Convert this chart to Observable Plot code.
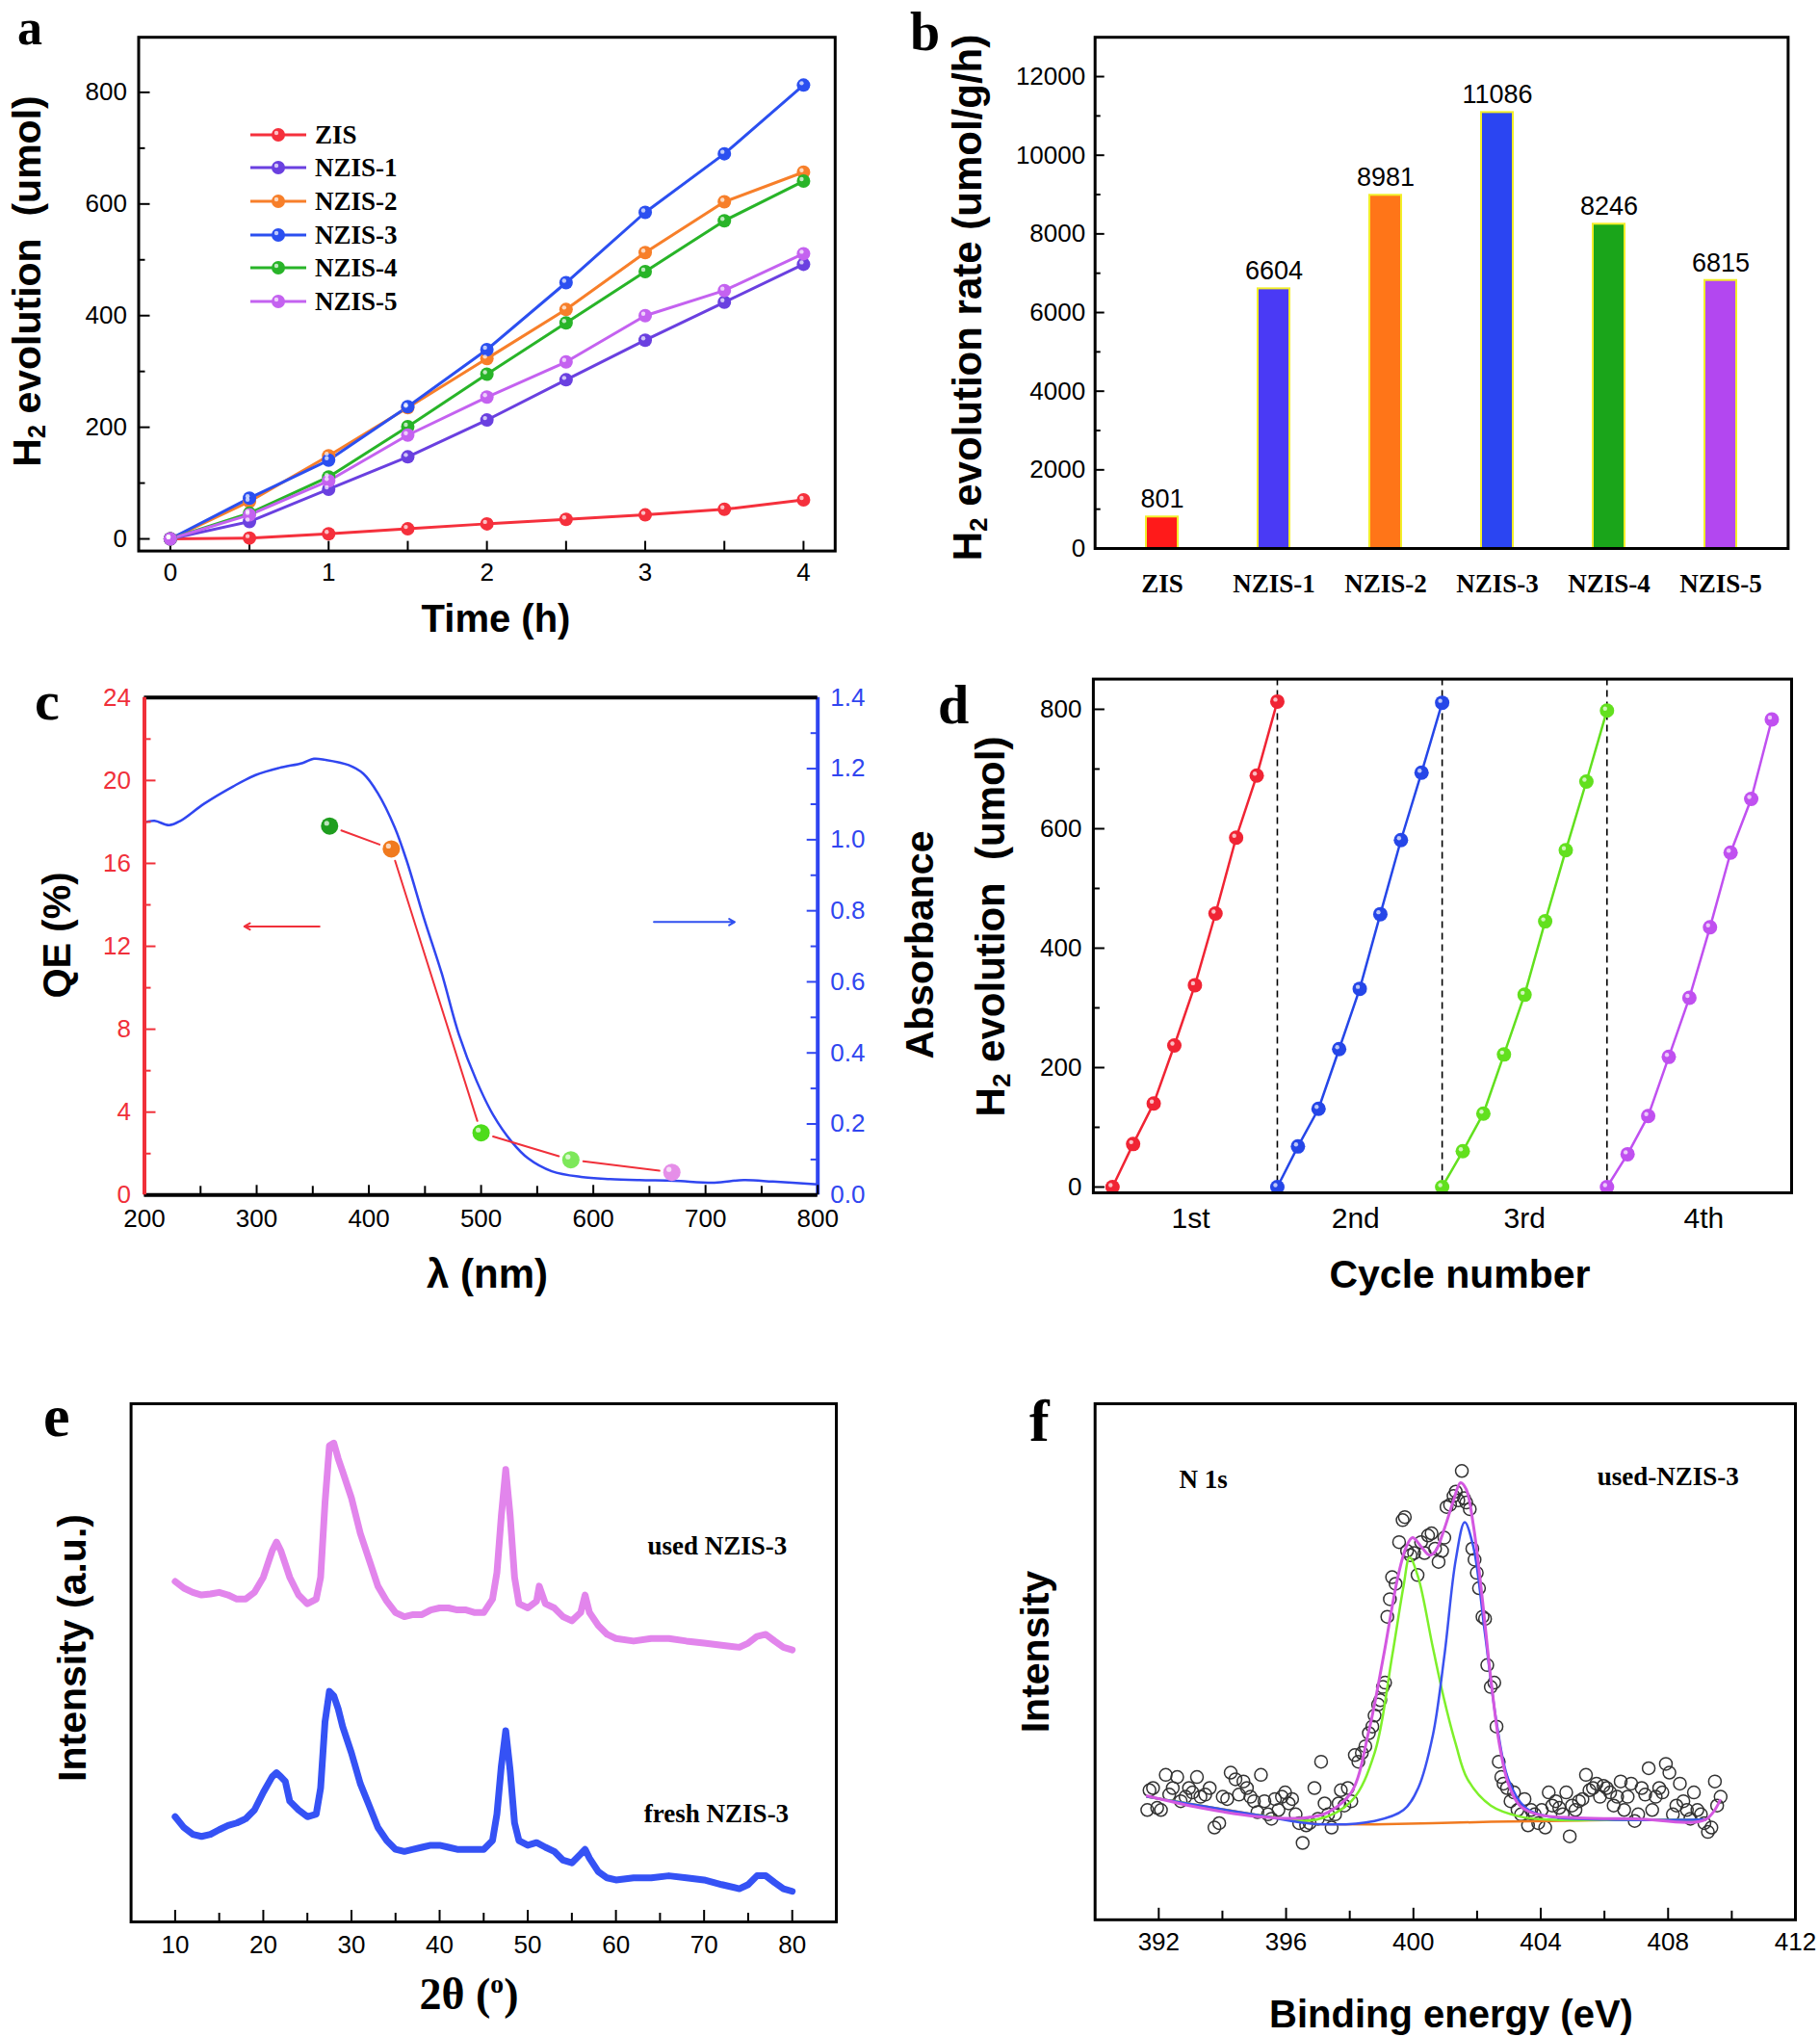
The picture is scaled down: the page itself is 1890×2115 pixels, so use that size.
<!DOCTYPE html>
<html><head><meta charset="utf-8">
<script src="https://cdn.jsdelivr.net/npm/d3@7"></script>
<script src="https://cdn.jsdelivr.net/npm/@observablehq/plot@0.6"></script>
<style>
html,body{margin:0;padding:0;background:#fff;}
#page{position:relative;width:1890px;height:2115px;background:#fff;overflow:hidden;}
.t{position:absolute;white-space:nowrap;font-family:"Liberation Sans",Arial,sans-serif;font-weight:bold;color:#000;line-height:1;}
.lt{position:absolute;white-space:nowrap;font-family:"Liberation Serif","Times New Roman",serif;font-weight:bold;line-height:1;color:#000;}
.pl{position:absolute;white-space:nowrap;font-family:"Liberation Serif","Times New Roman",serif;font-weight:bold;line-height:0.75;color:#000;}
.sub{font-size:0.62em;vertical-align:-0.22em;line-height:0;}
</style></head><body><div id="page"></div>
<script>
// ---------------- DATA ----------------
// (a) H2 evolution vs time
const timeH = [0, 0.5, 1, 1.5, 2, 2.5, 3, 3.5, 4];
const seriesA = ["ZIS", "NZIS-1", "NZIS-2", "NZIS-3", "NZIS-4", "NZIS-5"];
const colorsA = ["#f5303c", "#6a40e0", "#f77f2a", "#2b4ff0", "#28b428", "#c462f0"];
const h2ZIS = [0, 1.5, 9, 18, 27, 35, 43, 53, 70];
const h2N1 = [0, 31, 89, 147, 213, 285, 356, 424, 492];
const h2N2 = [0, 67, 149, 235, 323, 411, 513, 604, 657];
const h2N3 = [0, 73, 141, 237, 339, 459, 585, 690, 813];
const h2N4 = [0, 46, 111, 201, 295, 387, 479, 570, 641];
const h2N5 = [0, 43, 104, 186, 254, 317, 400, 445, 511];
const aYTicks = [0, 200, 400, 600, 800];
const aYMinor = [100, 300, 500, 700];
const aXTicks = [0, 1, 2, 3, 4];

// (b) H2 evolution rate
const catsB = ["ZIS", "NZIS-1", "NZIS-2", "NZIS-3", "NZIS-4", "NZIS-5"];
const rateB = [801, 6604, 8981, 11086, 8246, 6815];
const colorsB = ["#ff1a1a", "#4a3af5", "#ff7518", "#2b45f2", "#1aa51a", "#b347f0"];
const bYTicks = [0, 2000, 4000, 6000, 8000, 10000, 12000];
const bYMinor = [1000, 3000, 5000, 7000, 9000, 11000];

// (c) QE and absorbance
const lambdaAbs = [200, 209, 222, 232, 253, 279, 299, 320, 341, 351, 361, 382, 395, 408, 423, 434, 449, 465, 480, 496, 511, 527, 542, 563, 589, 615, 641, 672, 708, 734, 760, 800];
const absVals = [1.049, 1.053, 1.041, 1.053, 1.101, 1.150, 1.182, 1.202, 1.216, 1.228, 1.225, 1.210, 1.186, 1.131, 1.035, 0.938, 0.780, 0.623, 0.454, 0.321, 0.224, 0.151, 0.103, 0.067, 0.051, 0.045, 0.042, 0.040, 0.035, 0.042, 0.038, 0.030];
const lambdaQE = [365, 420, 500, 580, 670];
const qeVals = [17.8, 16.7, 3.0, 1.7, 1.1];
const qeColors = ["#1f9e1f", "#f07a1e", "#4ddc1a", "#7de85a", "#e58ee8"];
const cQETicks = [0, 4, 8, 12, 16, 20, 24];
const cQEMinor = [2, 6, 10, 14, 18, 22];
const cAbsTicks = [0, 0.2, 0.4, 0.6, 0.8, 1.0, 1.2, 1.4];
const cAbsMinor = [0.1, 0.3, 0.5, 0.7, 0.9, 1.1, 1.3];
const cXTicks = [200, 300, 400, 500, 600, 700, 800];
const cXMinor = [250, 350, 450, 550, 650, 750];
const arrowX1 = [356, 654];
const arrowX2 = [289, 726];
const arrowY = [12.96, 13.17];
const arrowColors = ["#f0303a", "#3050f0"];

// (d) cycling
const cycleNames = ["1st", "2nd", "3rd", "4th"];
const cycleColors = ["#f02434", "#2546e8", "#62e01e", "#c050f0"];
const cyc1 = [0, 72, 140, 237, 338, 458, 585, 689, 813];
const cyc2 = [0, 68, 131, 231, 332, 457, 581, 694, 811];
const cyc3 = [0, 60, 123, 222, 322, 445, 564, 679, 798];
const cyc4 = [0, 55, 119, 218, 317, 435, 560, 650, 783];
const cycleBounds = [4, 8, 12];
const cycleLabelPos = [1.9, 5.9, 10.0, 14.35];
const dYTicks = [0, 200, 400, 600, 800];
const dYMinor = [100, 300, 500, 700];

// (e) XRD
const degUsed = [10,11,12,13,14,15,16,17,18,19,20,21,21.5,22,23,24,25,26,26.5,27,27.5,28,28.5,29,30,31,32,33,34,35,36,37,38,39,40,41,42,43,44,45,46,46.5,47,47.5,48,48.5,49,50,51,51.3,52,53,54,55,56,56.5,57,58,59,60,62,64,66,68,70,72,74,75,76,77,78,79,80];
const intUsed = [65.7,64.4,63.6,63.1,63.3,63.6,63.1,62.3,62.3,63.6,66.5,71.6,73.3,71.6,66.5,63.1,61.4,62.3,66.5,80.9,91.9,92.4,89.4,86.9,81.8,75.0,69.9,64.8,61.9,59.7,58.9,59.3,59.3,60.2,60.6,60.6,60.2,60.2,59.7,59.7,62.3,67.4,78.4,87.3,78.4,66.5,61.4,60.6,61.9,64.8,61.4,60.6,58.9,58.1,59.7,63.1,59.7,57.2,55.5,54.7,54.2,54.7,54.7,54.2,53.8,53.4,53.0,53.8,55.1,55.5,54.2,53.0,52.5];
const degFresh = [10,11,12,13,14,15,16,17,18,19,20,21,21.5,22,22.5,23,24,25,26,26.5,27,27.5,28,28.5,29,30,31,32,33,34,35,36,37,38,39,40,41,42,43,44,45,46,46.5,47,47.5,48,48.5,49,50,51,52,53,54,55,56,56.5,57,58,59,60,62,64,66,68,70,72,74,75,76,77,78,79,80];
const intFresh = [20.3,18.2,16.9,16.5,16.9,17.8,18.6,19.1,19.9,21.6,25.0,28.0,28.8,28.0,27.1,23.3,21.6,20.3,20.8,25.8,38.6,44.5,43.6,41.1,37.7,32.6,26.7,22.5,18.2,15.7,14.0,13.6,14.0,14.4,14.8,14.8,14.4,14.0,14.0,14.0,14.0,15.7,20.8,30.1,36.9,29.2,19.1,15.7,14.8,15.3,14.4,13.6,11.9,11.4,13.1,14.0,12.3,9.7,8.5,8.1,8.5,8.5,8.9,8.5,8.1,7.2,6.4,7.2,8.9,8.9,7.6,6.4,5.9];
const eXTicks = [10, 20, 30, 40, 50, 60, 70, 80];
const eXMinor = [15, 25, 35, 45, 55, 65, 75];
const eLabels = ["used NZIS-3", "fresh NZIS-3"];
const eLabelX = [71.5, 71.4];
const eLabelY = [72.5, 20.9];

// (f) XPS N 1s
const beRaw = [391.64,391.71,391.82,391.95,392.07,392.22,392.33,392.44,392.58,392.69,392.84,392.95,393.06,393.20,393.31,393.46,393.60,393.75,393.90,394.01,394.15,394.26,394.41,394.52,394.66,394.77,394.88,394.99,395.10,395.21,395.32,395.43,395.54,395.65,395.76,395.87,395.97,396.08,396.19,396.30,396.41,396.52,396.63,396.74,396.89,397.00,397.10,397.21,397.32,397.43,397.54,397.65,397.72,397.83,397.94,398.05,398.16,398.27,398.38,398.49,398.60,398.71,398.78,398.89,398.96,399.04,399.11,399.18,399.26,399.33,399.44,399.55,399.66,399.73,399.80,399.91,400.02,400.13,400.24,400.35,400.46,400.57,400.68,400.79,400.90,400.97,401.04,401.15,401.26,401.33,401.41,401.52,401.59,401.66,401.77,401.85,401.92,401.99,402.06,402.17,402.25,402.32,402.43,402.54,402.61,402.68,402.76,402.83,402.94,403.05,403.16,403.27,403.38,403.49,403.60,403.70,403.81,403.92,404.03,404.14,404.25,404.36,404.47,404.58,404.69,404.80,404.91,404.98,405.09,405.20,405.31,405.42,405.53,405.64,405.75,405.86,405.97,406.07,406.18,406.29,406.40,406.51,406.62,406.73,406.84,406.95,407.06,407.17,407.28,407.39,407.50,407.61,407.72,407.82,407.93,408.04,408.15,408.26,408.37,408.48,408.59,408.70,408.81,408.92,409.03,409.14,409.25,409.36,409.47,409.54,409.65];
const intRaw = [250,295,300,255,250,330,285,300,325,270,280,300,290,325,280,285,300,210,220,280,275,335,320,285,315,300,280,270,245,330,270,240,230,275,250,280,290,265,275,240,220,175,215,220,300,230,360,265,240,210,240,265,295,260,300,270,375,360,380,395,425,440,465,490,500,530,540,690,730,780,765,860,910,917,840,830,835,785,860,835,875,880,845,815,840,870,940,945,965,975,955,1022,960,950,935,845,820,790,755,690,685,580,530,540,440,360,325,310,300,270,290,250,240,275,215,250,240,220,250,210,290,260,270,255,240,290,190,260,250,270,275,330,295,300,310,280,305,300,290,260,280,315,250,280,310,225,240,300,285,345,250,280,300,290,355,335,240,260,310,270,250,230,290,250,240,220,200,210,315,260,280];
const beBg = [391.64,393.31,395.14,396.96,398.78,400.61,402.43,404.25,406.07,407.90,409.17];
const intBg = [280,260,238,218,217,220,223,225,227,227,228];
const beGreen = [391.64,393.31,395.14,396.96,398.05,398.78,399.33,399.69,399.88,400.15,400.61,400.97,401.33,401.70,402.43,403.34,404.25,406.07,409.17];
const intGreen = [280,260,238,228,270,380,600,760,825,780,620,500,400,320,260,235,228,227,228];
const beBlue = [391.64,395.14,396.96,398.78,399.69,400.15,400.61,400.97,401.33,401.61,401.88,402.25,402.61,402.98,403.52,404.25,406.07,409.17];
const intBlue = [280,238,218,225,250,300,420,600,820,905,850,650,450,320,255,235,228,228];
const beEnv = [391.64,393.31,395.14,396.59,397.32,398.05,398.60,399.06,399.51,399.78,399.97,400.24,400.51,400.70,400.97,401.24,401.48,401.66,401.88,402.15,402.43,402.70,402.98,403.34,403.89,405.16,406.99,409.17,409.63];
const intEnv = [282,255,235,232,245,290,430,600,780,850,870,850,830,840,890,950,995,980,900,740,550,400,310,260,240,232,230,228,272];
const fXTicks = [392, 396, 400, 404, 408, 412];
const fXMinor = [394, 398, 402, 406, 410];
const fLabels = ["N 1s", "used-NZIS-3"];
const fLabelX = [393.4, 408.0];
const fLabelY = [1002, 1008];

// ---------------- HELPERS ----------------
const SANS = '"Liberation Sans", Arial, Helvetica, sans-serif';
const SERIF = '"Liberation Serif", "Times New Roman", serif';
const page = document.getElementById("page");
const baseStyle = {background: "transparent", overflow: "visible", fontFamily: SANS, fontSize: "26px", color: "black"};

function dims(box, fr) {
  return {width: box.w, height: box.h, marginLeft: fr.l - box.x, marginRight: box.x + box.w - fr.r,
          marginTop: fr.t - box.y, marginBottom: box.y + box.h - fr.b};
}
function put(svg, box) {
  svg.style.position = "absolute";
  svg.style.left = box.x + "px";
  svg.style.top = box.y + "px";
  svg.style.maxWidth = "none";
  page.appendChild(svg);
}
function tickLeft(vals, len, fr, o = {}) { return Plot.tickY(vals, {y: d => d, insetRight: (fr.r - fr.l) - len, strokeWidth: 2, ...o}); }
function tickRight(vals, len, fr, o = {}) { return Plot.tickY(vals, {y: d => d, insetLeft: (fr.r - fr.l) - len, strokeWidth: 2, ...o}); }
function tickBottom(vals, len, fr, o = {}) { return Plot.tickX(vals, {x: d => d, insetTop: (fr.b - fr.t) - len, strokeWidth: 2, ...o}); }
function title(html, x, y, size, rotate, cls = "t") {
  const d = document.createElement("div");
  d.className = cls;
  d.innerHTML = html;
  d.style.left = x + "px"; d.style.top = y + "px"; d.style.fontSize = size + "px";
  d.style.transform = rotate ? "translate(-50%,-50%) rotate(-90deg)" : "translate(-50%,-50%)";
  d.style.zIndex = 5;
  page.appendChild(d);
}
function letter(ch, left, baseline, size) {
  const d = document.createElement("div");
  d.className = "pl"; d.textContent = ch;
  d.style.left = left + "px"; d.style.top = (baseline - 0.7125 * size) + "px"; d.style.fontSize = size + "px";
  d.style.zIndex = 5;
  page.appendChild(d);
}
const H2 = 'H<span class="sub">2</span>';

// ---------------- PANEL A ----------------
{
  const box = {x: 0, y: 0, w: 945, h: 680};
  const fr = {l: 143.5, r: 866.8, t: 38.2, b: 571.6};
  const all = [h2ZIS, h2N1, h2N2, h2N3, h2N4, h2N5];
  const rows = all.flatMap((arr, i) => arr.map((v, j) => ({s: seriesA[i], t: timeH[j], v})));
  const svg = Plot.plot({
    ...dims(box, fr), style: baseStyle,
    x: {domain: [-0.2, 4.2]}, y: {domain: [-21.7, 898.7]},
    color: {domain: seriesA, range: colorsA},
    marks: [
      tickLeft(aYTicks, 12, fr), tickLeft(aYMinor, 7, fr),
      tickBottom(timeH, 10, fr),
      Plot.axisY({ticks: aYTicks, tickSize: 0, tickPadding: 12, tickFormat: d => String(d), label: null}),
      Plot.axisX({ticks: aXTicks, tickSize: 0, tickPadding: 12, tickFormat: d => String(d), label: null}),
      Plot.line(rows, {x: "t", y: "v", stroke: "s", strokeWidth: 3}),
      Plot.dot(rows, {x: "t", y: "v", fill: "s", r: 7}),
      Plot.dot(rows, {x: "t", y: "v", fill: "white", fillOpacity: 0.7, r: 2.2, dx: -2, dy: -2}),
      Plot.frame({stroke: "black", strokeWidth: 3})
    ]
  });
  put(svg, box);
  // legend
  seriesA.forEach((s, i) => {
    const yc = 139.6 + 34.7 * i;
    const sw = document.createElementNS("http://www.w3.org/2000/svg", "svg");
    sw.setAttribute("width", 62); sw.setAttribute("height", 20);
    sw.style.position = "absolute"; sw.style.left = "258px"; sw.style.top = (yc - 10) + "px";
    sw.innerHTML = `<line x1="2" y1="10" x2="60" y2="10" stroke="${colorsA[i]}" stroke-width="3"/>` +
      `<circle cx="31" cy="10" r="7" fill="${colorsA[i]}"/><circle cx="29" cy="8" r="2.2" fill="white" fill-opacity="0.7"/>`;
    page.appendChild(sw);
    const tx = document.createElement("div");
    tx.className = "lt"; tx.textContent = s;
    tx.style.left = "327px"; tx.style.top = yc + "px"; tx.style.fontSize = "27px";
    tx.style.transform = "translateY(-50%)";
    page.appendChild(tx);
  });
  title(H2 + " evolution&nbsp;&nbsp;(umol)", 28, 292, 41, true);
  title("Time (h)", 515, 642, 40, false);
  letter("a", 18, 46, 52);
}

// ---------------- PANEL B ----------------
{
  const box = {x: 945, y: 0, w: 945, h: 680};
  const fr = {l: 1136.7, r: 1856.4, t: 38.2, b: 569};
  const rows = catsB.map((c, i) => ({c, v: rateB[i]}));
  const svg = Plot.plot({
    ...dims(box, fr), style: baseStyle,
    x: {type: "band", domain: catsB, paddingInner: 0.717, paddingOuter: 0.445},
    y: {domain: [0, 13000]},
    color: {domain: catsB, range: colorsB},
    marks: [
      tickLeft(bYTicks, 10, fr), tickLeft(bYMinor, 6, fr),
      Plot.axisY({ticks: bYTicks, tickSize: 0, tickPadding: 10, tickFormat: d => String(d), label: null}),
      Plot.axisX({tickSize: 0, tickPadding: 26, label: null, fontFamily: SERIF, fontWeight: "bold", fontSize: 27}),
      Plot.barY(rows, {x: "c", y: "v", fill: "c", stroke: "#f2ee2a", strokeWidth: 2}),
      Plot.text(rows, {x: "c", y: "v", text: d => String(d.v), dy: -18, fontSize: 27}),
      Plot.frame({stroke: "black", strokeWidth: 3})
    ]
  });
  put(svg, box);
  title(H2 + " evolution rate (umol/g/h)", 1005, 309, 42, true);
  letter("b", 945, 52, 56);
}

// ---------------- PANEL C ----------------
{
  const box = {x: 0, y: 680, w: 945, h: 700};
  const fr = {l: 149.5, r: 848.7, t: 723.8, b: 1240.3};
  const absRows = lambdaAbs.map((l, i) => ({l, a: absVals[i]}));
  const blue = "#3046f0", red = "#f0303a";
  const svgAbs = Plot.plot({
    ...dims(box, fr), style: baseStyle,
    x: {domain: [200, 800], axis: null}, y: {domain: [0, 1.4]},
    marks: [
      tickRight(cAbsTicks, 11, fr, {stroke: blue}), tickRight(cAbsMinor, 7, fr, {stroke: blue}),
      Plot.axisY({anchor: "right", ticks: cAbsTicks, tickSize: 0, tickPadding: 13, tickFormat: d => d.toFixed(1), label: null, color: blue}),
      Plot.line(absRows, {x: "l", y: "a", stroke: blue, strokeWidth: 2.5, curve: "catmull-rom"}),
      Plot.ruleX([800], {stroke: blue, strokeWidth: 4})
    ]
  });
  put(svgAbs, box);
  const qeRows = lambdaQE.map((l, i) => ({l, q: qeVals[i], c: qeColors[i]}));
  const segs = qeRows.slice(1).map((d, i) => ({x1: qeRows[i].l, y1: qeRows[i].q, x2: d.l, y2: d.q}));
  const arrows = arrowX1.map((x1, i) => ({x1, x2: arrowX2[i], y: arrowY[i], c: arrowColors[i]}));
  const svgQE = Plot.plot({
    ...dims(box, fr), style: baseStyle,
    x: {domain: [200, 800]}, y: {domain: [0, 24]},
    color: {type: "identity"},
    marks: [
      tickLeft(cQETicks, 12, fr, {stroke: red}), tickLeft(cQEMinor, 7, fr, {stroke: red}),
      tickBottom(cXTicks, 10, fr), tickBottom(cXMinor, 9, fr),
      Plot.axisY({ticks: cQETicks, tickSize: 0, tickPadding: 14, tickFormat: d => String(d), label: null, color: red}),
      Plot.axisX({ticks: cXTicks, tickSize: 0, tickPadding: 15, tickFormat: d => String(d), label: null}),
      Plot.ruleY([0, 24], {stroke: "black", strokeWidth: 4}),
      Plot.ruleX([200], {stroke: red, strokeWidth: 4}),
      Plot.arrow(segs, {x1: "x1", y1: "y1", x2: "x2", y2: "y2", stroke: red, strokeWidth: 2, headLength: 0, insetStart: 13, insetEnd: 13}),
      Plot.arrow(arrows, {x1: "x1", y1: "y", x2: "x2", y2: "y", stroke: "c", strokeWidth: 2, headLength: 5}),
      Plot.dot(qeRows, {x: "l", y: "q", fill: "c", r: 9}),
      Plot.dot(qeRows, {x: "l", y: "q", fill: "white", fillOpacity: 0.7, r: 2.6, dx: -3, dy: -3})
    ]
  });
  put(svgQE, box);
  title("QE (%)", 59, 971, 40, true);
  title("&lambda; (nm)", 506, 1323, 42, false);
  title("Absorbance", 955, 981, 41, true);
  letter("c", 36, 747, 58);
}

// ---------------- PANEL D ----------------
{
  const box = {x: 945, y: 680, w: 945, h: 700};
  const fr = {l: 1134.9, r: 1860, t: 704.6, b: 1238};
  const cycles = [cyc1, cyc2, cyc3, cyc4];
  const rows = cycles.flatMap((arr, k) => arr.map((v, j) => ({c: cycleNames[k], x: 4 * k + timeH[j], v})));
  const svg = Plot.plot({
    ...dims(box, fr), style: baseStyle,
    x: {domain: [-0.465, 16.48]}, y: {domain: [-9.7, 850.6]},
    color: {domain: cycleNames, range: cycleColors},
    marks: [
      tickLeft(dYTicks, 12, fr), tickLeft(dYMinor, 7, fr),
      Plot.axisY({ticks: dYTicks, tickSize: 0, tickPadding: 12, tickFormat: d => String(d), label: null}),
      Plot.axisX({ticks: cycleLabelPos, tickSize: 0, tickPadding: 15, fontSize: 30, label: null,
                  tickFormat: d => cycleNames[cycleLabelPos.indexOf(d)]}),
      Plot.ruleX(cycleBounds, {stroke: "black", strokeWidth: 1.6, strokeDasharray: "7,5"}),
      Plot.line(rows, {x: "x", y: "v", stroke: "c", strokeWidth: 2.5}),
      Plot.dot(rows, {x: "x", y: "v", fill: "c", r: 7.5}),
      Plot.dot(rows, {x: "x", y: "v", fill: "white", fillOpacity: 0.7, r: 2.2, dx: -2, dy: -2}),
      Plot.frame({stroke: "black", strokeWidth: 3})
    ]
  });
  put(svg, box);
  title(H2 + " evolution&nbsp;&nbsp;(umol)", 1029, 962, 42, true);
  title("Cycle number", 1516, 1323, 41, false);
  letter("d", 974, 751, 58);
}

// ---------------- PANEL E ----------------
{
  const box = {x: 0, y: 1400, w: 945, h: 715};
  const fr = {l: 135.6, r: 868, t: 1457, b: 1995};
  const used = degUsed.map((x, i) => ({x, v: intUsed[i]}));
  const fresh = degFresh.map((x, i) => ({x, v: intFresh[i]}));
  const labels = eLabels.map((t, i) => ({t, x: eLabelX[i], y: eLabelY[i]}));
  const svg = Plot.plot({
    ...dims(box, fr), style: baseStyle,
    x: {domain: [5, 85]}, y: {domain: [0, 100], axis: null},
    marks: [
      tickBottom(eXTicks, 12, fr), tickBottom(eXMinor, 9, fr),
      Plot.axisX({ticks: eXTicks, tickSize: 0, tickPadding: 14, tickFormat: d => String(d), label: null}),
      Plot.line(used, {x: "x", y: "v", stroke: "#e285ec", strokeWidth: 7}),
      Plot.line(fresh, {x: "x", y: "v", stroke: "#3552f5", strokeWidth: 7}),
      Plot.text(labels, {x: "x", y: "y", text: "t", fontFamily: SERIF, fontWeight: "bold", fontSize: 27}),
      Plot.frame({stroke: "black", strokeWidth: 3})
    ]
  });
  put(svg, box);
  title("Intensity (a.u.)", 75, 1711, 41, true);
  title('2&theta; (<sup style="font-size:0.6em">o</sup>)', 487, 2070, 46, false, "lt");
  letter("e", 45, 1491, 62);
}

// ---------------- PANEL F ----------------
{
  const box = {x: 945, y: 1400, w: 945, h: 715};
  const fr = {l: 1136.7, r: 1864, t: 1457, b: 1992.8};
  const raw = beRaw.map((x, i) => ({x, v: intRaw[i]}));
  const mk = (xs, ys) => xs.map((x, i) => ({x, v: ys[i]}));
  const labels = fLabels.map((t, i) => ({t, x: fLabelX[i], y: fLabelY[i]}));
  const svg = Plot.plot({
    ...dims(box, fr), style: baseStyle,
    x: {domain: [390, 412]}, y: {domain: [0, 1175], axis: null},
    marks: [
      tickBottom(fXTicks, 12, fr), tickBottom(fXMinor, 9, fr),
      Plot.axisX({ticks: fXTicks, tickSize: 0, tickPadding: 13, tickFormat: d => String(d), label: null}),
      Plot.dot(raw, {x: "x", y: "v", r: 6.5, stroke: "#333", strokeWidth: 1.5, fill: "none"}),
      Plot.line(mk(beBg, intBg), {x: "x", y: "v", stroke: "#f07a20", strokeWidth: 2.5}),
      Plot.line(mk(beGreen, intGreen), {x: "x", y: "v", stroke: "#7ef02a", strokeWidth: 2.5, curve: "catmull-rom"}),
      Plot.line(mk(beBlue, intBlue), {x: "x", y: "v", stroke: "#3a52f0", strokeWidth: 2.5, curve: "catmull-rom"}),
      Plot.line(mk(beEnv, intEnv), {x: "x", y: "v", stroke: "#d357e0", strokeWidth: 3, curve: "catmull-rom"}),
      Plot.text(labels, {x: "x", y: "y", text: "t", fontFamily: SERIF, fontWeight: "bold", fontSize: 27}),
      Plot.frame({stroke: "black", strokeWidth: 3})
    ]
  });
  put(svg, box);
  title("Intensity", 1075, 1715, 41, true);
  title("Binding energy (eV)", 1507, 2091, 40, false);
  letter("f", 1069, 1496, 62);
}
</script></body></html>
